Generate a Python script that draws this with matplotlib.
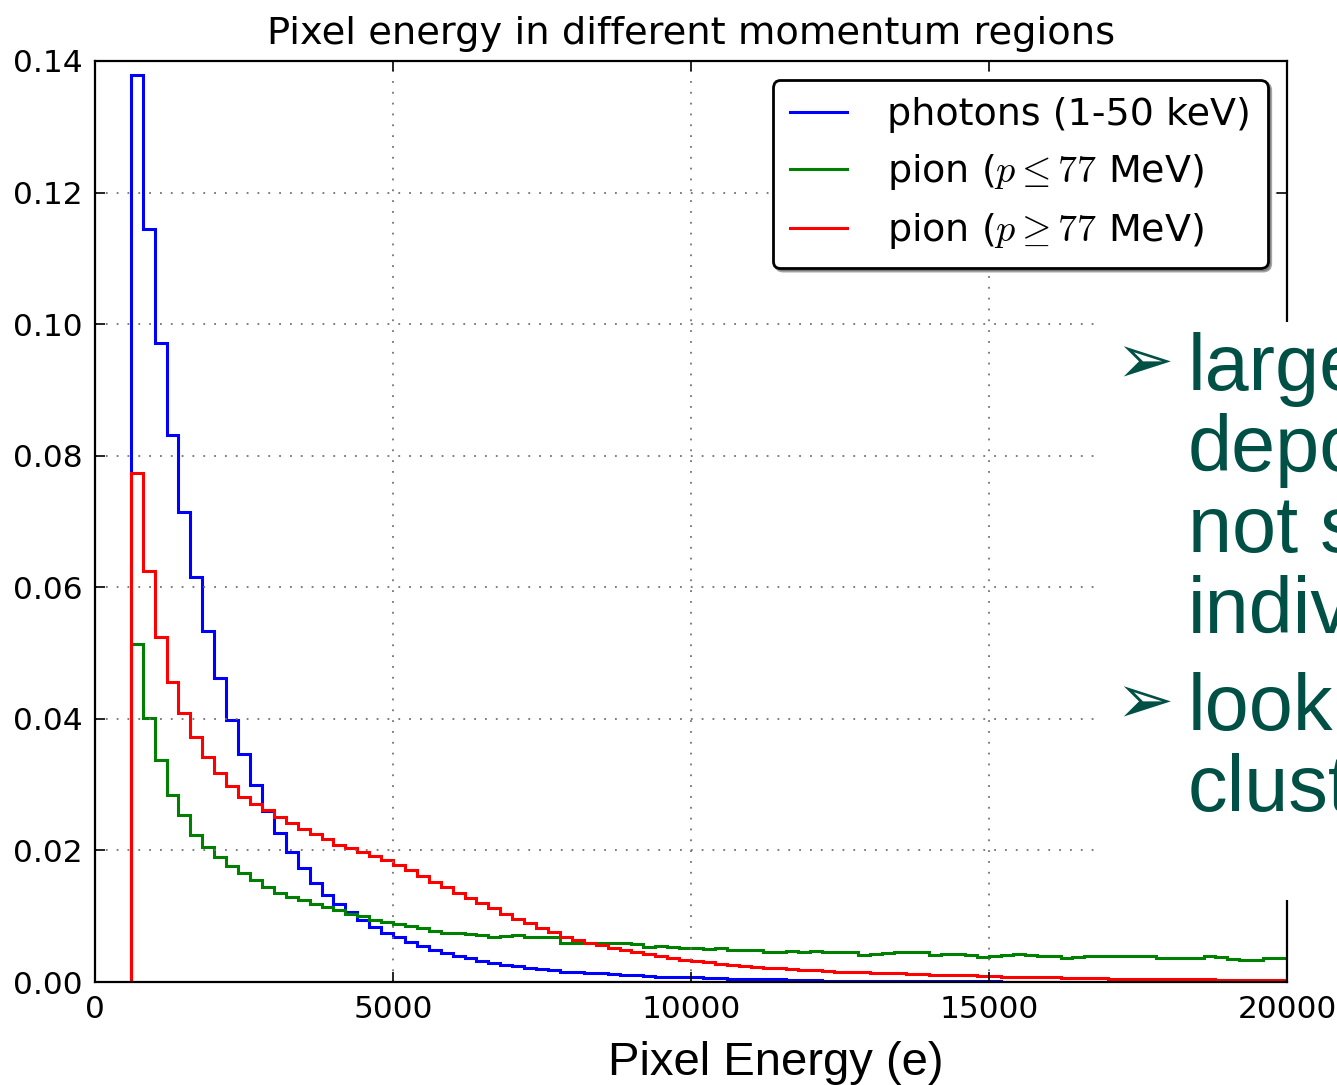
import numpy as np
import matplotlib
matplotlib.use("Agg")
import matplotlib.pyplot as plt
from matplotlib.patches import Rectangle

# histogram bins: 200 e wide, starting at 600 e
bin_edges = np.arange(600, 20001, 200)

photons = [
    0.1378, 0.1144, 0.0972, 0.0831, 0.0714, 0.0615, 0.0534, 0.0462, 0.0399, 0.0346,
    0.0300, 0.0260, 0.0227, 0.0197, 0.0173, 0.0150, 0.0133, 0.0118, 0.0106, 0.0095,
    0.0084, 0.0075, 0.0068, 0.0061, 0.0055, 0.0049, 0.0044, 0.0040, 0.0036, 0.0032,
    0.0029, 0.0026, 0.0024, 0.0022, 0.0020, 0.0018, 0.0016, 0.0015, 0.0014, 0.0013,
    0.0012, 0.0011, 0.0010, 0.0009, 0.0008, 0.0008, 0.0007, 0.0007, 0.0006, 0.0006,
    0.0005, 0.0005, 0.0004, 0.0004, 0.0004, 0.0003, 0.0003, 0.0003, 0.0002, 0.0002,
    0.0002, 0.0002, 0.0001, 0.0001, 0.0001, 0.0001, 0.0001, 0.0001, 0.0001, 0.0001,
    0.0001, 0.0001, 0.0001, 0.0, 0.0, 0.0, 0.0, 0.0, 0.0, 0.0,
    0.0, 0.0, 0.0, 0.0, 0.0, 0.0, 0.0, 0.0, 0.0, 0.0,
    0.0, 0.0, 0.0, 0.0, 0.0, 0.0, 0.0,
]

pion_low = [
    0.0514, 0.0402, 0.0338, 0.0284, 0.0254, 0.0224, 0.0205, 0.0190, 0.0176, 0.0165,
    0.0155, 0.0145, 0.0135, 0.0130, 0.0125, 0.0119, 0.0114, 0.0109, 0.0104, 0.0100,
    0.0095, 0.0091, 0.0088, 0.0085, 0.0082, 0.0078, 0.0075, 0.0074, 0.0073, 0.0071,
    0.0069, 0.0070, 0.0071, 0.0069, 0.0068, 0.0068, 0.0060, 0.0059, 0.0060, 0.0059,
    0.0060, 0.0060, 0.0058, 0.0054, 0.0055, 0.0054, 0.0051, 0.0051, 0.0050, 0.0051,
    0.0049, 0.0049, 0.0048, 0.0046, 0.0046, 0.0047, 0.0046, 0.0047, 0.0045, 0.0046,
    0.0046, 0.0041, 0.0042, 0.0044, 0.0045, 0.0045, 0.0046, 0.0041, 0.0042, 0.0042,
    0.0041, 0.0038, 0.0039, 0.0041, 0.0042, 0.0041, 0.0040, 0.0040, 0.0037, 0.0038,
    0.0039, 0.0039, 0.0040, 0.0040, 0.0040, 0.0039, 0.0037, 0.0037, 0.0037, 0.0037,
    0.0039, 0.0038, 0.0035, 0.0034, 0.0034, 0.0037, 0.0037,
]

pion_high = [
    0.0774, 0.0625, 0.0524, 0.0456, 0.0409, 0.0373, 0.0342, 0.0318, 0.0298, 0.0282,
    0.0270, 0.0261, 0.0251, 0.0242, 0.0233, 0.0225, 0.0217, 0.0209, 0.0203, 0.0197,
    0.0191, 0.0185, 0.0178, 0.0170, 0.0161, 0.0152, 0.0144, 0.0136, 0.0128, 0.0120,
    0.0112, 0.0104, 0.0096, 0.0089, 0.0082, 0.0076, 0.0069, 0.0064, 0.0060, 0.0056,
    0.0052, 0.0048, 0.0045, 0.0042, 0.0039, 0.0036, 0.0034, 0.0032, 0.0030, 0.0028,
    0.0026, 0.0024, 0.0023, 0.0022, 0.0021, 0.0020, 0.0019, 0.0018, 0.0017, 0.0016,
    0.0016, 0.0015, 0.0014, 0.0014, 0.0013, 0.0012, 0.0012, 0.0011, 0.0011, 0.0010,
    0.0010, 0.0009, 0.0009, 0.0008, 0.0008, 0.0008, 0.0007, 0.0007, 0.0006, 0.0006,
    0.0006, 0.0006, 0.0005, 0.0005, 0.0005, 0.0005, 0.0004, 0.0004, 0.0004, 0.0004,
    0.0004, 0.0003, 0.0003, 0.0003, 0.0003, 0.0003, 0.0003,
]

labels = ["photons (1-50 keV)", r"pion ($p\leq77$ MeV)", r"pion ($p\geq77$ MeV)"]
colors = ["#0000ff", "#008000", "#ff0000"]

xticks = [0, 5000, 10000, 15000, 20000]
yticks = [0.00, 0.02, 0.04, 0.06, 0.08, 0.10, 0.12, 0.14]

bullet_lines = [["large", "depo", "not s", "indiv"], ["look", "clust"]]

plt.rcParams["font.family"] = ["DejaVu Sans"]
plt.rcParams["mathtext.fontset"] = "cm"

fig = plt.figure(figsize=(13.37, 10.85), dpi=100)
ax = fig.add_axes([0.0711, 0.0949, 0.8915, 0.8489])

for vals, c, lab in zip([photons, pion_low, pion_high], colors, labels):
    ax.stairs(vals, bin_edges, baseline=0, color=c, linewidth=2.2, label=lab)

ax.set_xlim(0, 20000)
ax.set_ylim(0, 0.14)
ax.set_xticks(xticks)
ax.set_yticks(yticks)
ax.set_yticklabels([f"{v:.2f}" for v in yticks])
ax.tick_params(direction="in", length=7, width=1.2, labelsize=22.5, pad=9,
               top=True, right=True)
ax.grid(True, color="0.45", linestyle=(0, (1, 5)), linewidth=1.3)
for s in ax.spines.values():
    s.set_linewidth(1.6)

ax.set_title("Pixel energy in different momentum regions", fontsize=27.6, pad=12)

leg = ax.legend(loc="upper right", fontsize=27.4, shadow=True, fancybox=True,
                framealpha=1, edgecolor="black", handlelength=1.5,
                handletextpad=1.05, labelspacing=0.5, borderpad=0.45,
                borderaxespad=0.5)
leg.get_frame().set_linewidth(2)

# x axis label of the slide (not centred on the axes)
fig.text(0.5804, 0.0092, "Pixel Energy (e)", fontsize=34, family="Liberation Sans",
         ha="center", va="baseline")

# slide text box overlapping the right side of the plot
fig.patches.append(Rectangle((1095 / 1337, 1 - 900 / 1085), 1, (900 - 322) / 1085,
                             transform=fig.transFigure, facecolor="white",
                             edgecolor="none", zorder=2))
green_txt = "#005046"
y0 = 1 - 390 / 1085
step = 81 / 1085
row = 0
for block in bullet_lines:
    fig.text(1115 / 1337, y0 - row * step + 0.006, "➢", fontsize=50, color=green_txt,
             family=["DejaVu Sans"], va="baseline", zorder=3)
    for line in block:
        fig.text(1188 / 1337, y0 - row * step, line, fontsize=57, color=green_txt,
                 family=["Liberation Sans", "DejaVu Sans"], va="baseline", zorder=3)
        row += 1
    row += 0.2

fig.savefig("out.png", dpi=100)
